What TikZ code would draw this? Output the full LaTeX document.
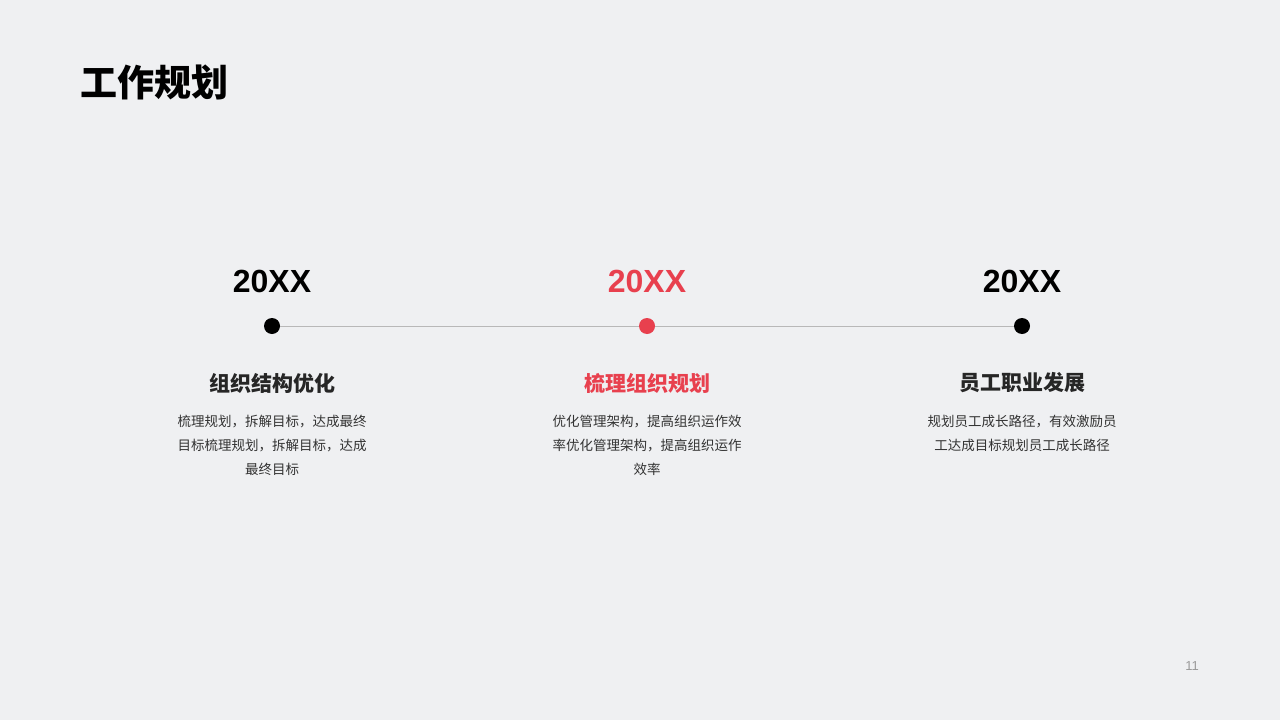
\documentclass[tikz,border=0pt]{standalone}
\usepackage{fontspec}
\newfontfamily\cjk{Noto Sans CJK SC}
\newfontfamily\lat{Liberation Sans}
\definecolor{bg}{HTML}{EFF0F2}
\definecolor{accent}{HTML}{E8404E}
\definecolor{dark}{HTML}{262626}
\definecolor{body}{HTML}{333333}
\definecolor{linegray}{HTML}{B8B8B8}
\definecolor{pagegray}{HTML}{9A9A9A}
\tikzset{
  year/.style={font=\lat\bfseries\fontsize{32}{36}\selectfont, inner sep=0pt, anchor=center},
  dot/.style={circle, fill=#1, minimum size=16pt, inner sep=0pt},
  head/.style={font=\cjk\bfseries\fontsize{21}{24}\selectfont, inner sep=0pt, anchor=center},
  bodytext/.style={font=\cjk\fontsize{13.5}{24}\selectfont, text=body, inner sep=0pt, anchor=north, align=center},
}
\begin{document}
\begin{tikzpicture}[x=1pt,y=-1pt]
\fill[bg] (0,0) rectangle (1280,720);
\useasboundingbox (0,0) rectangle (1280,720);
\node[font=\cjk\bfseries\fontsize{37}{40}\selectfont, anchor=west, inner sep=0pt] (title) at (80,82) {工作规划};
% dots
\node[dot=black] (d1) at (272,326) {};
\node[dot=accent] (d2) at (647,326) {};
\node[dot=black] (d3) at (1022,326) {};
\draw[linegray, line width=1pt] (d1) -- (d2);
\draw[linegray, line width=1pt] (d2) -- (d3);
% years
\node[year, text=black] (y1) at (272,281) {20XX};
\node[year, text=accent] (y2) at (647,281) {20XX};
\node[year, text=black] (y3) at (1022,281) {20XX};
% headings
\node[head, text=dark] (h1) at (272,383) {组织结构优化};
\node[head, text=accent] (h2) at (647,383) {梳理组织规划};
\node[head, text=dark] (h3) at (1022,383) {员工职业发展};
% body
\node[bodytext] (b1) at (272,414.5) {梳理规划，拆解目标，达成最终\\目标梳理规划，拆解目标，达成\\最终目标};
\node[bodytext] (b2) at (647,414.5) {优化管理架构，提高组织运作效\\率优化管理架构，提高组织运作\\效率};
\node[bodytext] (b3) at (1022,414.5) {规划员工成长路径，有效激励员\\工达成目标规划员工成长路径};
\node[font=\lat\fontsize{13}{15}\selectfont, text=pagegray, inner sep=0pt] (pg) at (1192,666) {11};
\end{tikzpicture}
\end{document}
